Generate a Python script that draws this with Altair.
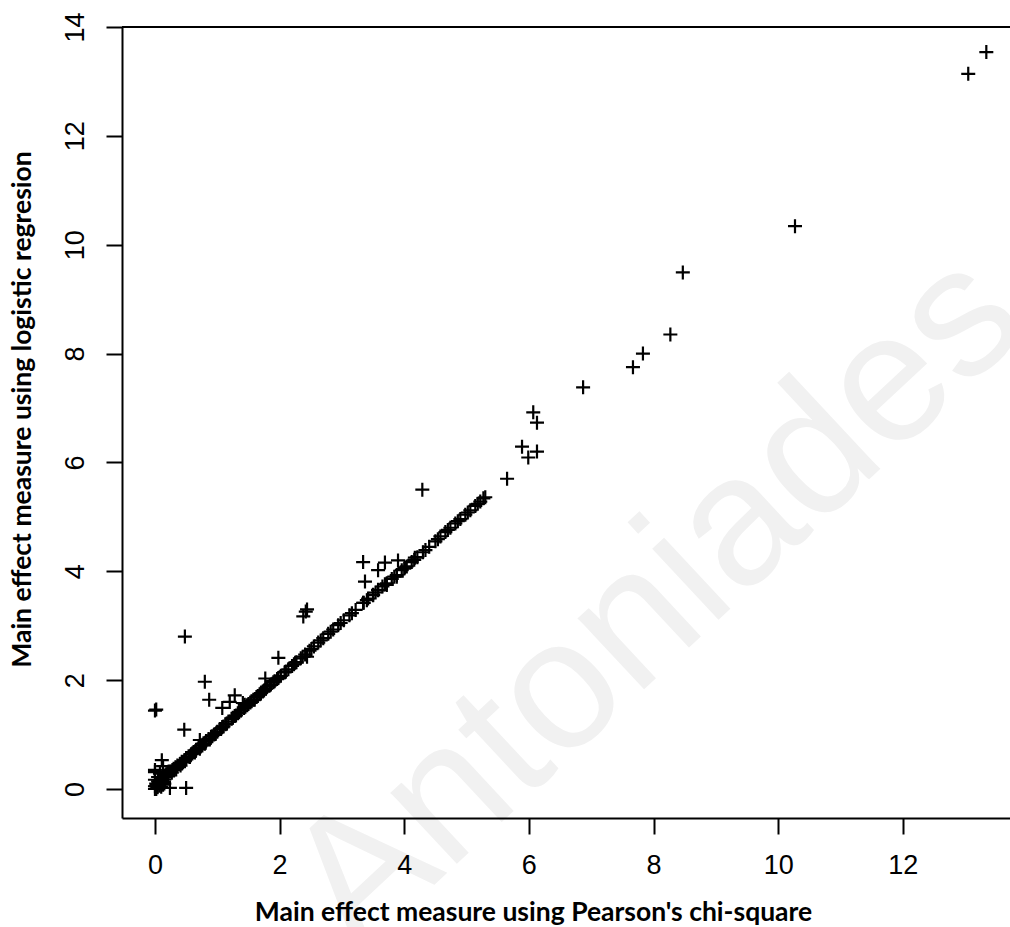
import altair as alt
import pandas as pd

# Points (x = Pearson's chi-square measure, y = logistic regression measure)
x_outliers = [13.34, 13.05, 10.27, 8.47, 8.27, 7.83, 7.67, 6.87, 6.07, 6.13, 5.89, 5.99, 6.13, 5.65,
              4.29, 3.34, 3.69, 3.90, 3.58, 4.01, 3.37, 3.88, 4.17, 3.72, 3.58, 3.50, 3.42, 3.34,
              2.42, 2.44, 2.38, 1.98, 1.77, 0.48, 0.80, 0.87, 0.00, 0.02, 0.47, 1.08, 1.28, 1.20,
              1.41, 0.72, 0.11, 0.00, 0.24, 0.50, 0.00, 0.00, 1.60, 1.44, 1.80, 2.09, 2.25, 2.44]
y_outliers = [13.54, 13.14, 10.34, 9.49, 8.35, 8.00, 7.75, 7.38, 6.92, 6.73, 6.29, 6.09, 6.20, 5.70,
              5.50, 4.17, 4.16, 4.20, 4.02, 4.07, 3.81, 3.90, 4.25, 3.75, 3.66, 3.56, 3.50, 3.42,
              3.26, 3.30, 3.17, 2.41, 2.03, 2.80, 1.97, 1.64, 1.44, 1.46, 1.09, 1.49, 1.72, 1.60,
              1.58, 0.90, 0.53, 0.35, 0.02, 0.02, 0.17, 0.31, 1.64, 1.55, 1.88, 2.15, 2.32, 2.43]

x_diag = [0.00, 0.01, 0.02, 0.03, 0.05, 0.06, 0.08, 0.10, 0.12, 0.14, 0.16, 0.18, 0.20, 0.22,
          0.25, 0.28, 0.30, 0.33, 0.36, 0.40, 0.43, 0.47, 0.50, 0.54, 0.58, 0.62, 0.66, 0.70,
          0.74, 0.78, 0.82, 0.86, 0.90, 0.95, 1.00, 1.04, 1.08, 1.13, 1.18, 1.23, 1.28, 1.33,
          1.38, 1.43, 1.48, 1.53, 1.58, 1.63, 1.68, 1.73, 1.78, 1.84, 1.90, 1.96, 2.02, 2.08,
          2.14, 2.20, 2.27, 2.34, 2.41, 2.48, 2.55, 2.62, 2.70, 2.78, 2.86, 2.94, 3.03, 3.12,
          3.22, 3.35, 3.50, 3.58, 3.65, 3.72, 3.80, 3.88, 3.96, 4.04, 4.12, 4.21, 4.30, 4.40,
          4.50, 4.58, 4.66, 4.74, 4.82, 4.90, 4.98, 5.06, 5.14, 5.22, 5.27,
          0.00, 0.02, 0.04, 0.07, 0.10, 0.13, 0.15, 0.05, 0.08, 0.13]
y_diag = [0.00, 0.05, 0.10, 0.08, 0.14, 0.12, 0.16, 0.20, 0.18, 0.22, 0.25, 0.27, 0.30, 0.32,
          0.32, 0.35, 0.37, 0.40, 0.43, 0.46, 0.50, 0.53, 0.57, 0.60, 0.64, 0.68, 0.72, 0.76,
          0.80, 0.84, 0.88, 0.92, 0.96, 1.00, 1.05, 1.10, 1.14, 1.19, 1.24, 1.29, 1.34, 1.39,
          1.44, 1.49, 1.54, 1.59, 1.64, 1.69, 1.74, 1.79, 1.84, 1.90, 1.96, 2.02, 2.08, 2.14,
          2.20, 2.26, 2.33, 2.40, 2.47, 2.54, 2.62, 2.69, 2.77, 2.85, 2.93, 3.01, 3.10, 3.19,
          3.29, 3.42, 3.57, 3.65, 3.72, 3.78, 3.86, 3.93, 4.02, 4.09, 4.17, 4.26, 4.35, 4.45,
          4.55, 4.64, 4.72, 4.80, 4.88, 4.96, 5.04, 5.12, 5.20, 5.28, 5.34,
          0.05, 0.00, 0.04, 0.06, 0.04, 0.08, 0.10, 0.22, 0.28, 0.42]

# second, slightly offset pass along the dense band
x_band = [0.04, 0.09, 0.15, 0.21, 0.27, 0.34, 0.41, 0.48, 0.56, 0.64, 0.72, 0.80, 0.88, 0.97,
          1.06, 1.15, 1.25, 1.35, 1.45, 1.55, 1.65, 1.75, 1.86, 1.98, 2.10, 2.23, 2.37, 2.51,
          2.66, 2.82, 2.98, 3.16, 3.40, 3.54, 3.69, 3.84, 4.00, 4.16, 4.34, 4.54, 4.70, 4.86,
          5.02, 5.18, 5.30, 0.19, 0.31, 0.45, 0.60, 0.76, 0.92, 1.10, 1.30, 1.50, 1.70, 1.92]
y_band = [0.03, 0.10, 0.17, 0.23, 0.30, 0.36, 0.43, 0.51, 0.59, 0.67, 0.74, 0.83, 0.91, 1.01,
          1.10, 1.20, 1.31, 1.41, 1.51, 1.61, 1.71, 1.81, 1.92, 2.04, 2.16, 2.29, 2.43, 2.57,
          2.73, 2.89, 3.05, 3.23, 3.47, 3.61, 3.76, 3.90, 4.05, 4.21, 4.39, 4.59, 4.76, 4.92,
          5.08, 5.24, 5.36, 0.24, 0.36, 0.49, 0.65, 0.80, 0.97, 1.15, 1.35, 1.56, 1.76, 1.98]

x_ticks = [0, 2, 4, 6, 8, 10, 12]
y_ticks = [0, 2, 4, 6, 8, 10, 12, 14]
x_title = "Main effect measure using Pearson's chi-square"
y_title = "Main effect measure using logistic regresion"
watermark = ["Antoniades"]

df = pd.DataFrame({"x": x_outliers + x_diag + x_band, "y": y_outliers + y_diag + y_band})

W, H = 888, 791
X_DOM = [-0.529, 13.72]
Y_DOM = [-0.533, 14.0]

x_axis = alt.Axis(values=x_ticks, format="d", grid=False, labelFont="Liberation Sans",
                  labelFontSize=27, labelColor="black", labelPadding=18, labelBaseline="top",
                  tickColor="black", tickSize=16, tickWidth=2, domainColor="black", domainWidth=2,
                  title=x_title, titleFont="Lato", titleFontWeight="bold", titleFontSize=26.5,
                  titleColor="black", titleX=411, titleY=94, titleAlign="center",
                  titleBaseline="middle", zindex=1)
y_axis = alt.Axis(values=y_ticks, format="d", grid=False, labelFont="Liberation Sans",
                  labelFontSize=27, labelColor="black", labelAngle=270, labelAlign="center",
                  labelBaseline="alphabetic", labelPadding=23,
                  tickColor="black", tickSize=16, tickWidth=2, domainColor="black", domainWidth=2,
                  title=y_title, titleFont="Lato", titleFontWeight="bold", titleFontSize=26.5,
                  titleColor="black", titleX=-100, titleY=382, titleAngle=270, titleAlign="center",
                  titleBaseline="middle", zindex=1)

wm = alt.Chart(pd.DataFrame({"t": watermark})).mark_text(
    font="Liberation Sans", fontSize=184, color="#f1f1f1", angle=317,
    align="center", baseline="middle"
).encode(text="t:N", x=alt.value(535), y=alt.value(575))

points = alt.Chart(df).mark_point(
    shape="M-1,0L1,0M0,-1L0,1", size=196, strokeWidth=2.2, color="black",
    filled=False, opacity=1
).encode(
    x=alt.X("x:Q", scale=alt.Scale(domain=X_DOM, nice=False, zero=False), axis=x_axis),
    y=alt.Y("y:Q", scale=alt.Scale(domain=Y_DOM, nice=False, zero=False), axis=y_axis),
)

top = alt.Chart(pd.DataFrame({"a": [0]})).mark_rule(color="black", strokeWidth=2).encode(
    x=alt.value(0), x2=alt.value(W), y=alt.value(0)
)

chart = alt.layer(wm, points, top).properties(
    width=W, height=H,
    autosize=alt.AutoSizeParams(type="none"),
    padding={"left": 122, "top": 27, "right": 0, "bottom": 109},
    background="white",
).configure_view(stroke=None)

chart.save("out.html", embed_options={"renderer": "svg", "actions": False})
